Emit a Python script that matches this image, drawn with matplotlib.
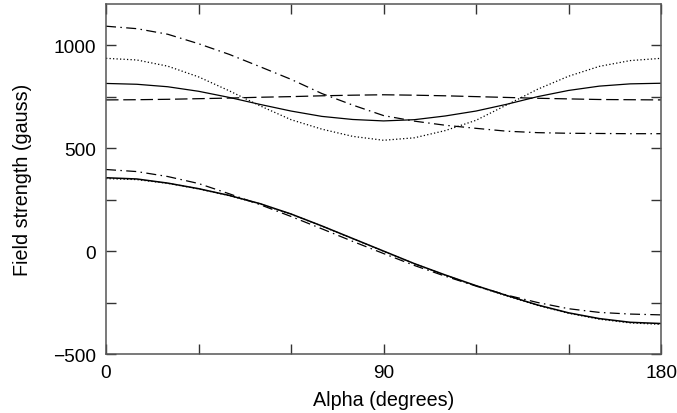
import numpy as np
import matplotlib
matplotlib.use('Agg')
import matplotlib.pyplot as plt
from matplotlib.ticker import MultipleLocator, FixedLocator

plt.rcParams['font.family'] = ['Liberation Sans', 'DejaVu Sans']

# angulo (grados)
alpha = [0, 10, 20, 30, 40, 50, 60, 70, 80, 90, 100, 110, 120, 130, 140, 150, 160, 170, 180]

# curvas superiores
sup_solida = [814, 810, 798, 776, 746, 712, 680, 654, 639, 632, 638, 656, 680, 713, 750, 780, 801, 812, 815]
sup_puntos = [936, 928, 898, 846, 778, 705, 638, 592, 557, 538, 550, 585, 635, 710, 786, 849, 897, 925, 936]
sup_rayas = [734, 735, 737, 740, 743, 747, 750, 754, 757, 759, 757, 754, 750, 746, 742, 739, 736, 735, 734]
sup_raya_punto = [1092, 1080, 1053, 1007, 955, 895, 834, 765, 709, 658, 631, 611, 596, 582, 575, 572, 571, 570, 570]

# curvas inferiores
inf_solida = [356, 350, 330, 303, 270, 230, 180, 122, 61, 0, -61, -116, -168, -216, -262, -300, -328, -346, -352]
inf_puntos = [352, 347, 329, 302, 269, 229, 179, 121, 60, -1, -62, -117, -170, -218, -264, -302, -331, -349, -356]
inf_raya_punto = [396, 386, 362, 328, 278, 225, 168, 108, 47, -12, -70, -122, -170, -214, -250, -280, -298, -306, -310]

fig = plt.figure(figsize=(6.77, 4.14), dpi=100)
ax = fig.add_axes([0.1566, 0.1425, 0.8198, 0.8455])

lw = 0.9
dashdot = (0, (8, 3.5, 1.2, 3.5))
ax.plot(alpha, sup_solida, color='black', lw=lw)
ax.plot(alpha, sup_puntos, color='black', lw=lw, linestyle=(0, (1.0, 1.8)))
ax.plot(alpha, sup_rayas, color='black', lw=lw, linestyle=(0, (10, 3.8)))
ax.plot(alpha, sup_raya_punto, color='black', lw=lw, linestyle=dashdot)

ax.plot(alpha, inf_solida, color='black', lw=lw + 0.2)
ax.plot(alpha, inf_puntos, color='black', lw=lw, linestyle=(0, (1.0, 1.8)))
ax.plot(alpha, inf_raya_punto, color='black', lw=lw, linestyle=dashdot)

ax.set_xlim(0, 180)
ax.set_ylim(-500, 1200)

ax.xaxis.set_major_locator(FixedLocator([0, 90, 180]))
ax.xaxis.set_minor_locator(MultipleLocator(30))
ax.yaxis.set_major_locator(FixedLocator([-500, 0, 500, 1000]))
ax.yaxis.set_minor_locator(MultipleLocator(250))

ax.tick_params(which='both', direction='in', length=7, width=1, top=True, right=True,
               labelsize=13.8, color='#333333')
ax.tick_params(axis='x', pad=7)
ax.tick_params(axis='y', pad=7)

for s in ax.spines.values():
    s.set_linewidth(1.1)
    s.set_color('#555555')

ax.set_xlabel('Alpha (degrees)', fontsize=14.2, labelpad=7)
ax.set_ylabel('Field strength (gauss)', fontsize=14.2, labelpad=15)

fig.savefig('out.png', dpi=100)
